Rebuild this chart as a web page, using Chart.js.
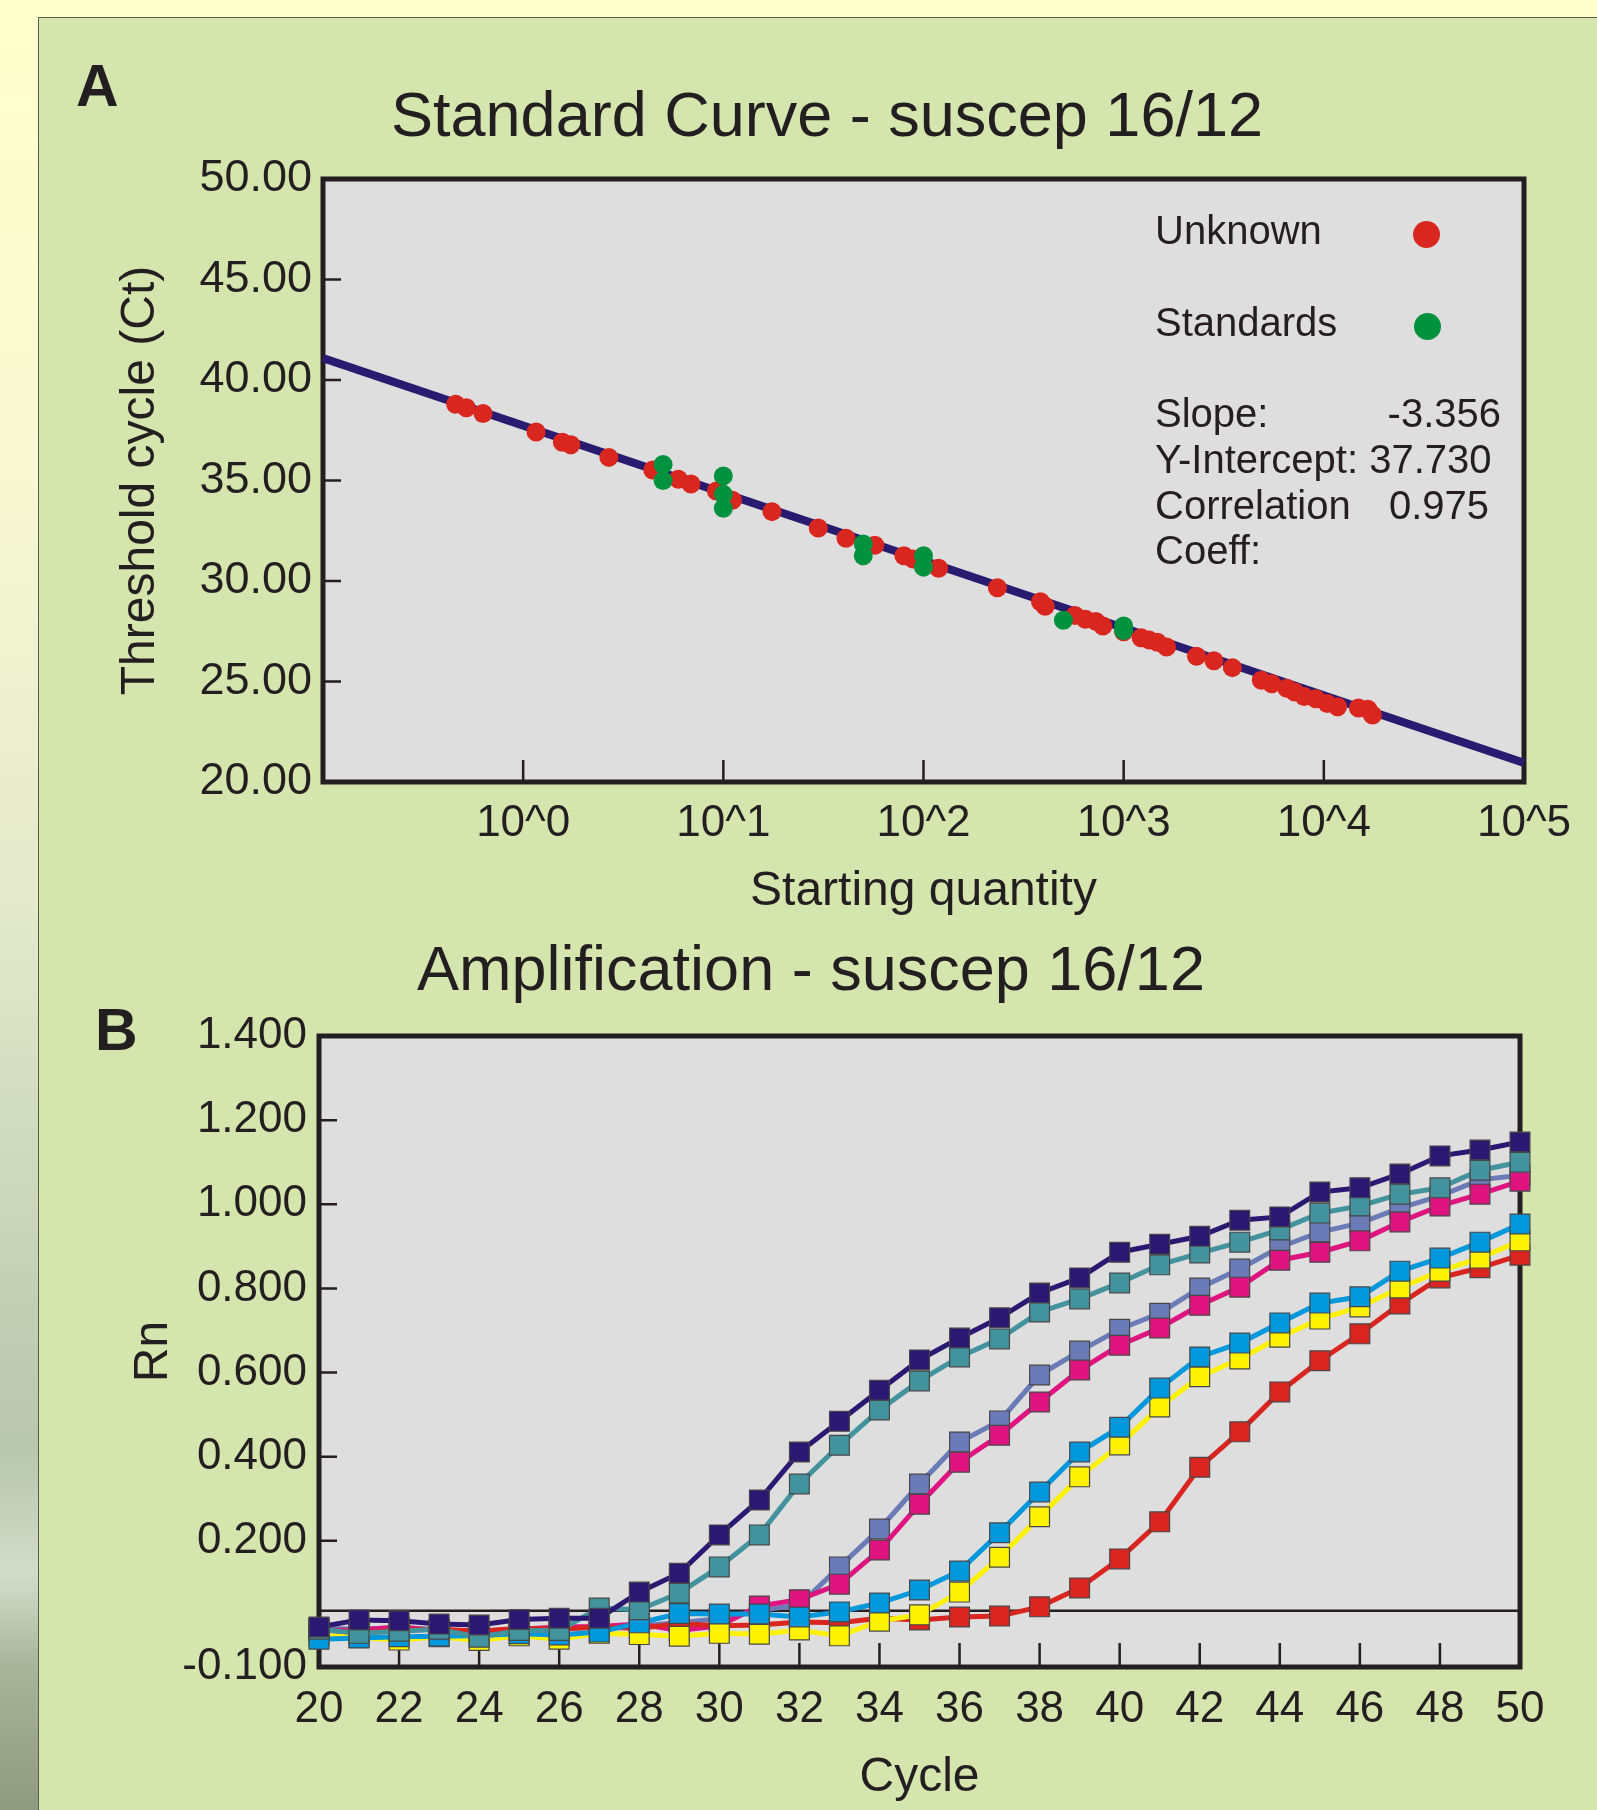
<!DOCTYPE html>
<html>
<head>
<meta charset="utf-8">
<script src="https://cdn.jsdelivr.net/npm/chart.js@4.4.0/dist/chart.umd.min.js"></script>
<style>
    html, body { margin: 0; padding: 0; }
    body {
        width: 1597px; height: 1810px; position: relative; overflow: hidden;
        background: #ffffcc; color: #231f20;
        font-family: 'Liberation Sans', Arial, Helvetica, sans-serif;
    }
    #strip {
        position: absolute; left: 0; top: 0; width: 38px; height: 1810px;
        background: linear-gradient(to bottom, #ffffcc 0%, #f8f9d2 25%, #e4e9cc 50%, #cdd8bd 65%,
                    #b8c6ad 80%, #d3dcca 87%, #a9b59b 92%, #8f9a80 100%);
    }
    #panel {
        position: absolute; left: 38px; top: 17px; right: 0; bottom: 0;
        background: #d4e5ad; border-left: 1px solid #5c5c4c; border-top: 1px solid #5c5c4c;
    }
    canvas { position: absolute; left: 0; }
    #chartA { top: 0; }
    #chartB { top: 930px; }
    .letter { position: absolute; font-weight: bold; font-size: 59px; line-height: 59px; }
    .txt { position: absolute; font-size: 40px; line-height: 46px; white-space: pre; }
    .dot { position: absolute; width: 27px; height: 27px; border-radius: 50%; }
</style>
</head>
<body>
<div id="strip"></div>
<div id="panel"></div>
<canvas id="chartA" width="1597" height="930"></canvas>
<canvas id="chartB" width="1597" height="880"></canvas>

<div class="letter" style="left:76px;top:57px;">A</div>
<div class="letter" style="left:95px;top:1001px;">B</div>

<div class="txt" style="left:1155px;top:207px;">Unknown</div>
<div class="dot" style="left:1413px;top:221px;background:#d9261f;"></div>
<div class="txt" style="left:1155px;top:299px;">Standards</div>
<div class="dot" style="left:1414px;top:313px;background:#00923f;"></div>

<div class="txt" style="left:1155px;top:390px;">Slope:</div>
<div class="txt" style="left:1155px;top:390px;width:346px;text-align:right;">-3.356</div>
<div class="txt" style="left:1155px;top:436px;">Y-Intercept: 37.730</div>
<div class="txt" style="left:1155px;top:482px;">Correlation</div>
<div class="txt" style="left:1389px;top:482px;">0.975</div>
<div class="txt" style="left:1155px;top:527px;">Coeff:</div>

<script>
// === Données : courbe standard (A) ===
const unknownQty = [0.46, 0.52, 0.63, 1.16, 1.57, 1.73, 2.68, 4.44, 5.96, 6.89, 9.23, 11.1, 17.5, 29.8,
    41.0, 57.1, 79.8, 88.7, 119, 234, 384, 405, 571, 644, 726, 787, 1000, 1222, 1340, 1472, 1637,
    2312, 2825, 3491, 4875, 5495, 6531, 7161, 7980, 9120, 10400, 11720, 14890, 16600, 17500];
const unknownCt = [38.79, 38.62, 38.33, 37.41, 36.90, 36.78, 36.15, 35.52, 35.06, 34.83, 34.48, 34.02,
    33.45, 32.64, 32.13, 31.78, 31.26, 31.09, 30.63, 29.66, 28.97, 28.74, 28.28, 28.10, 27.99, 27.76,
    27.47, 27.18, 27.07, 26.95, 26.72, 26.26, 26.03, 25.69, 25.06, 24.89, 24.66, 24.48, 24.25, 24.14,
    23.91, 23.74, 23.68, 23.62, 23.33];
const standardQty = [5, 5, 10, 10, 10, 50, 50, 100, 100, 500, 1000, 1000];
const standardCt = [35.80, 35.00, 35.23, 34.31, 33.62, 31.84, 31.26, 31.26, 30.69, 28.05, 27.76, 27.53];
const fitQty = [0.1, 100000];
const fitCt = [41.09, 20.95];
const aXTicks = [1, 10, 100, 1000, 10000, 100000];
const aYTicks = [20, 25, 30, 35, 40, 45, 50];
const aXMarks = [1, 10, 100, 1000, 10000];
const aYMarks = [25, 30, 35, 40, 45];

// === Données : amplification (B) ===
const cycles = [20, 21, 22, 23, 24, 25, 26, 27, 28, 29, 30, 31, 32, 33, 34, 35,
    36, 37, 38, 39, 40, 41, 42, 43, 44, 45, 46, 47, 48, 49, 50];
const rnNavy = [-0.005, 0.012, 0.010, 0.002, 0.000, 0.013, 0.016, 0.016, 0.078, 0.123, 0.214, 0.297,
    0.411, 0.484, 0.558, 0.630, 0.682, 0.730, 0.789, 0.825, 0.886, 0.905, 0.924, 0.962, 0.970, 1.029,
    1.039, 1.072, 1.115, 1.129, 1.148];
const rnTeal = [-0.010, -0.020, -0.015, -0.010, -0.029, -0.013, -0.013, 0.040, 0.036, 0.076, 0.138,
    0.214, 0.335, 0.427, 0.511, 0.580, 0.637, 0.680, 0.744, 0.775, 0.813, 0.856, 0.884, 0.910, 0.939,
    0.979, 0.996, 1.024, 1.039, 1.081, 1.100];
const rnSlate = [-0.008, -0.010, -0.006, -0.012, -0.015, -0.010, -0.008, -0.005, -0.002, 0.005, 0.015,
    0.035, 0.047, 0.138, 0.228, 0.335, 0.435, 0.485, 0.594, 0.651, 0.703, 0.741, 0.801, 0.846, 0.898,
    0.934, 0.955, 0.991, 1.020, 1.058, 1.069];
const rnMagenta = [-0.013, -0.012, -0.005, -0.013, -0.017, -0.010, -0.005, -0.004, 0.002, -0.013, -0.002,
    0.045, 0.060, 0.097, 0.178, 0.287, 0.387, 0.451, 0.530, 0.606, 0.665, 0.706, 0.760, 0.803, 0.867,
    0.886, 0.913, 0.958, 0.996, 1.024, 1.055];
const rnSky = [-0.034, -0.031, -0.028, -0.027, -0.025, -0.021, -0.024, -0.017, 0.005, 0.027, 0.026,
    0.026, 0.019, 0.031, 0.052, 0.083, 0.128, 0.219, 0.316, 0.411, 0.470, 0.563, 0.637, 0.670, 0.718,
    0.765, 0.780, 0.841, 0.872, 0.910, 0.953];
const rnYellow = [-0.025, -0.030, -0.036, -0.028, -0.037, -0.026, -0.034, -0.020, -0.023, -0.027, -0.020,
    -0.022, -0.012, -0.026, 0.009, 0.024, 0.078, 0.161, 0.257, 0.352, 0.428, 0.518, 0.590, 0.632, 0.684,
    0.727, 0.756, 0.801, 0.841, 0.872, 0.913];
const rnRed = [-0.010, -0.020, -0.012, -0.010, -0.015, -0.008, -0.010, -0.005, -0.008, 0.003, -0.002,
    0.000, 0.007, 0.005, 0.016, 0.012, 0.019, 0.021, 0.043, 0.088, 0.157, 0.245, 0.375, 0.459, 0.554,
    0.628, 0.692, 0.763, 0.825, 0.849, 0.879];
const thresholdCycles = [20, 50];
const thresholdRn = [0.034, 0.034];
const bYTicks = [-0.1, 0.2, 0.4, 0.6, 0.8, 1.0, 1.2, 1.4];
const bXMarks = [22, 24, 26, 28, 30, 32, 34, 36, 38, 40, 42, 44, 46, 48];
const bYMarks = [0.2, 0.4, 0.6, 0.8, 1.0, 1.2];

const INK = '#231f20';
Chart.defaults.font.family = "'Liberation Sans', Arial, Helvetica, sans-serif";
Chart.defaults.color = INK;

const pairs = (xs, ys) => xs.map((x, i) => ({ x: x, y: ys[i] }));

// Fond gris, cadre épais et graduations intérieures
const framePlugin = {
    id: 'frame',
    beforeDraw(chart) {
        const { ctx, chartArea: a } = chart;
        ctx.save();
        ctx.fillStyle = '#dedede';
        ctx.fillRect(a.left, a.top, a.right - a.left, a.bottom - a.top);
        ctx.restore();
    },
    beforeDatasetsDraw(chart, args, opts) {
        const { ctx, chartArea: a, scales } = chart;
        ctx.save();
        ctx.strokeStyle = INK;
        ctx.lineWidth = 2.5;
        ctx.beginPath();
        opts.xMarks.forEach(v => {
            const px = scales.x.getPixelForValue(v);
            ctx.moveTo(px, a.bottom);
            ctx.lineTo(px, a.bottom - opts.xLen);
        });
        opts.yMarks.forEach(v => {
            const py = scales.y.getPixelForValue(v);
            ctx.moveTo(a.left, py);
            ctx.lineTo(a.left + opts.yLen, py);
        });
        ctx.stroke();
        ctx.lineWidth = 5;
        ctx.strokeRect(a.left, a.top, a.right - a.left, a.bottom - a.top);
        ctx.restore();
    }
};

// === Graphique A : courbe standard ===
new Chart(document.getElementById('chartA'), {
    type: 'scatter',
    data: {
        datasets: [
            { label: 'Standards', data: pairs(standardQty, standardCt), backgroundColor: '#00923f',
              pointRadius: 9.5, borderWidth: 0 },
            { label: 'Unknown', data: pairs(unknownQty, unknownCt), backgroundColor: '#d9261f',
              pointRadius: 9.5, borderWidth: 0 },
            { label: 'Fit', data: pairs(fitQty, fitCt), showLine: true, borderColor: '#291b6f',
              borderWidth: 8, pointRadius: 0, clip: false }
        ]
    },
    plugins: [framePlugin],
    options: {
        responsive: false,
        animation: false,
        layout: { padding: { top: 0, left: 130, right: 73, bottom: 0 } },
        plugins: {
            legend: { display: false },
            tooltip: { enabled: false },
            title: {
                display: true, text: 'Standard Curve - suscep 16/12', color: INK,
                font: { size: 63, weight: 'normal' }, padding: { top: 81.2, bottom: 22.2 }
            },
            frame: { xMarks: aXMarks, yMarks: aYMarks, xLen: 22, yLen: 18 }
        },
        scales: {
            x: {
                type: 'logarithmic', min: 0.1, max: 100000,
                grid: { display: false, drawTicks: false }, border: { display: false },
                afterBuildTicks: s => { s.ticks = aXTicks.map(v => ({ value: v })); },
                afterFit: s => { s.height = 930 - 782; },
                ticks: {
                    padding: 15.6, autoSkip: false, maxRotation: 0, font: { size: 44 },
                    callback: v => '10^' + Math.round(Math.log10(v))
                },
                title: { display: true, text: 'Starting quantity', font: { size: 48 },
                         padding: { top: 0, bottom: 9 } }
            },
            y: {
                min: 20, max: 50,
                grid: { display: false, drawTicks: false }, border: { display: false },
                afterBuildTicks: s => { s.ticks = aYTicks.map(v => ({ value: v })); },
                afterFit: s => { s.width = 323 - 130; },
                ticks: { padding: 11, font: { size: 45 }, callback: v => v.toFixed(2) },
                title: { display: true, text: 'Threshold cycle (Ct)', font: { size: 48 },
                         padding: { top: -17.8, bottom: 0 } }
            }
        }
    }
});

// === Graphique B : amplification ===
const series = [
    { data: rnNavy, color: '#2a1872' },
    { data: rnTeal, color: '#43939e' },
    { data: rnSky, color: '#0098dc' },
    { data: rnYellow, color: '#fff200' },
    { data: rnRed, color: '#d9241f' },
    { data: rnMagenta, color: '#df1480' },
    { data: rnSlate, color: '#6a7bb8' }
];

const bDatasets = series.map(s => ({
    data: pairs(cycles, s.data),
    borderColor: s.color,
    backgroundColor: s.color,
    borderWidth: 5,
    pointStyle: 'rect',
    pointRadius: 14,
    pointBorderColor: '#474747',
    pointBorderWidth: 1.2,
    pointBackgroundColor: s.color,
    clip: false
}));
bDatasets.push({
    data: pairs(thresholdCycles, thresholdRn),
    borderColor: INK, borderWidth: 2.5, pointRadius: 0
});

new Chart(document.getElementById('chartB'), {
    type: 'line',
    data: { datasets: bDatasets },
    plugins: [framePlugin],
    options: {
        responsive: false,
        animation: false,
        layout: { padding: { top: 0, left: 102, right: 77, bottom: 0 } },
        plugins: {
            legend: { display: false },
            tooltip: { enabled: false },
            title: {
                display: true, text: 'Amplification - suscep 16/12', color: INK,
                font: { size: 63, weight: 'normal' }, padding: { top: 5.2, bottom: 25.2 }
            },
            frame: { xMarks: bXMarks, yMarks: bYMarks, xLen: 24, yLen: 18 }
        },
        scales: {
            x: {
                type: 'linear', min: 20, max: 50,
                grid: { display: false, drawTicks: false }, border: { display: false },
                afterFit: s => { s.height = 880 - 737; },
                ticks: { stepSize: 2, padding: 16.6, autoSkip: false, maxRotation: 0, font: { size: 44 } },
                title: { display: true, text: 'Cycle', font: { size: 48 }, padding: { top: 0, bottom: 3.2 } }
            },
            y: {
                min: -0.1, max: 1.4,
                grid: { display: false, drawTicks: false }, border: { display: false },
                afterBuildTicks: s => { s.ticks = bYTicks.map(v => ({ value: v })); },
                afterFit: s => { s.width = 319 - 102; },
                ticks: { padding: 12, font: { size: 44 }, callback: v => v.toFixed(3) },
                title: { display: true, text: 'Rn', font: { size: 48 }, padding: { top: 23, bottom: 0 } }
            }
        }
    }
});
</script>
</body>
</html>
